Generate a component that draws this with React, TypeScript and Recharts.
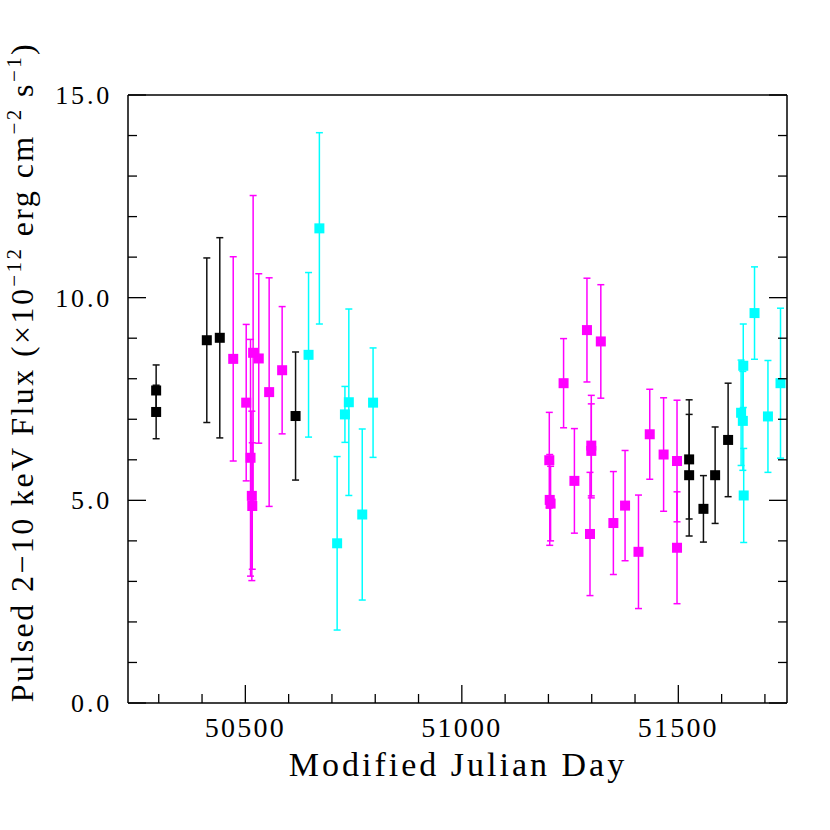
import { ScatterChart, Scatter, XAxis, YAxis, ErrorBar } from 'recharts'

// black points
const blackMjd = [50294, 50294, 50411, 50441, 50616, 51525, 51525, 51558, 51585, 51615]
const blackFlux = [7.71, 7.18, 8.95, 9.01, 7.08, 6.01, 5.62, 4.79, 5.62, 6.49]
const blackErr = [0.63, 0.66, 2.03, 2.47, 1.58, 1.47, 1.5, 0.82, 1.19, 1.4]

// magenta points
const magentaMjd = [
  50472, 50502, 50518, 50512, 50515, 50516, 50531, 50555, 50585,
  51202, 51203, 51205, 51235, 51260, 51289, 51299, 51299, 51296, 51321,
  51350, 51377, 51408, 51434, 51466, 51497, 51497,
]
const magentaFlux = [
  8.49, 7.41, 8.64, 6.05, 5.11, 4.86, 8.5, 7.67, 8.21,
  5.99, 5.01, 4.92, 7.89, 5.48, 9.2, 6.35, 6.22, 4.17, 8.92,
  4.44, 4.87, 3.73, 6.63, 6.13, 5.97, 3.83,
]
const magentaErr = [
  2.52, 1.93, 3.88, 2.92, 2.09, 1.56, 2.09, 2.82, 1.57,
  1.18, 1.12, 0.92, 1.1, 1.29, 1.28, 1.24, 1.16, 1.52, 1.4,
  1.27, 1.36, 1.4, 1.11, 1.4, 1.5, 1.38,
]

// cyan points
const cyanMjd = [50646, 50671, 50712, 50730, 50739, 50770, 50795, 51645, 51649, 51650, 51651, 51676, 51707, 51736]
const cyanFlux = [8.59, 11.71, 3.94, 7.12, 7.42, 4.65, 7.41, 7.16, 6.96, 8.32, 5.12, 9.62, 7.07, 7.89]
const cyanErr = [2.03, 2.36, 2.14, 0.69, 2.3, 2.11, 1.35, 1.3, 1.22, 1.03, 1.16, 1.14, 1.38, 1.85]

const xTicks = [50300, 50400, 50500, 50600, 50700, 50800, 50900, 51000, 51100, 51200, 51300, 51400, 51500, 51600, 51700]
const xMajor = [50500, 51000, 51500]
const yTicks = [0, 1, 2, 3, 4, 5, 6, 7, 8, 9, 10, 11, 12, 13, 14, 15]
const yMajor = [0, 5, 10, 15]

const FONT = '"Liberation Serif", serif'
const INK = '#000'

const toPoints = (mjd: number[], flux: number[], err: number[]) =>
  mjd.map((m, i) => ({ mjd: m, flux: flux[i], err: err[i] }))

const square = (color: string) => (props: any) => (
  <rect x={props.cx - 5} y={props.cy - 5} width={10} height={10} fill={color} />
)

function BottomTick({ x, y, payload }: any) {
  const major = xMajor.includes(payload.value)
  return (
    <g>
      <line x1={x} y1={y} x2={x} y2={y - (major ? 18 : 9)} stroke={INK} strokeWidth={1.3} />
      {major && (
        <text x={x} y={y + 34} textAnchor="middle" fontSize={28} letterSpacing={2.2} fontFamily={FONT} fill={INK}>
          {payload.value}
        </text>
      )}
    </g>
  )
}

function TopTick({ x, y, payload }: any) {
  const major = xMajor.includes(payload.value)
  return <line x1={x} y1={y} x2={x} y2={y + (major ? 18 : 9)} stroke={INK} strokeWidth={1.3} />
}

function LeftTick({ x, y, payload }: any) {
  const major = yMajor.includes(payload.value)
  return (
    <g>
      <line x1={x} y1={y} x2={x + (major ? 18 : 9)} y2={y} stroke={INK} strokeWidth={1.3} />
      {major && (
        <text x={x - 16} y={y} dy="0.34em" textAnchor="end" fontSize={26} letterSpacing={2.8} fontFamily={FONT} fill={INK}>
          {payload.value.toFixed(1)}
        </text>
      )}
    </g>
  )
}

function RightTick({ x, y, payload }: any) {
  const major = yMajor.includes(payload.value)
  return <line x1={x} y1={y} x2={x - (major ? 18 : 9)} y2={y} stroke={INK} strokeWidth={1.3} />
}

function XLabel() {
  return (
    <text x={458} y={776} textAnchor="middle" fontSize={34} letterSpacing={3} fontFamily={FONT} fill={INK}>
      Modified Julian Day
    </text>
  )
}

function YLabel() {
  const cx = 33
  const cy = 372
  return (
    <text
      x={cx}
      y={cy}
      transform={`rotate(-90 ${cx} ${cy})`}
      textAnchor="middle"
      fontSize={32}
      letterSpacing={2.4}
      fontFamily={FONT}
      fill={INK}
    >
      Pulsed 2−10 keV Flux (×10
      <tspan dy={-12} fontSize={21}>−12</tspan>
      <tspan dy={12}> erg cm</tspan>
      <tspan dy={-12} fontSize={21}>−2</tspan>
      <tspan dy={12}> s</tspan>
      <tspan dy={-12} fontSize={21}>−1</tspan>
      <tspan dy={12}>)</tspan>
    </text>
  )
}

export default function App() {
  const black = toPoints(blackMjd, blackFlux, blackErr)
  const magenta = toPoints(magentaMjd, magentaFlux, magentaErr)
  const cyan = toPoints(cyanMjd, cyanFlux, cyanErr)

  return (
    <div style={{ position: 'absolute', left: 0, top: 0, width: 830, height: 830, background: '#fff' }}>
      <ScatterChart width={830} height={830} margin={{ top: 94, right: 42, bottom: 67, left: 58 }}>
        <XAxis
          dataKey="mjd"
          type="number"
          domain={[50229, 51751]}
          allowDataOverflow
          ticks={xTicks}
          interval={0}
          tickSize={0}
          tickMargin={0}
          tickLine={false}
          height={60}
          axisLine={{ stroke: INK, strokeWidth: 1.5 }}
          tick={<BottomTick />}
          label={<XLabel />}
        />
        <XAxis
          xAxisId="top"
          orientation="top"
          type="number"
          domain={[50229, 51751]}
          allowDataOverflow
          ticks={xTicks}
          interval={0}
          tickSize={0}
          tickMargin={0}
          tickLine={false}
          height={1}
          axisLine={{ stroke: INK, strokeWidth: 1.5 }}
          tick={<TopTick />}
        />
        <YAxis
          dataKey="flux"
          type="number"
          domain={[0, 15]}
          allowDataOverflow
          ticks={yTicks}
          interval={0}
          tickSize={0}
          tickMargin={0}
          tickLine={false}
          width={70}
          axisLine={{ stroke: INK, strokeWidth: 1.5 }}
          tick={<LeftTick />}
          label={<YLabel />}
        />
        <YAxis
          yAxisId="right"
          orientation="right"
          type="number"
          domain={[0, 15]}
          allowDataOverflow
          ticks={yTicks}
          interval={0}
          tickSize={0}
          tickMargin={0}
          tickLine={false}
          width={1}
          axisLine={{ stroke: INK, strokeWidth: 1.5 }}
          tick={<RightTick />}
        />
        <Scatter data={magenta} fill="#ff00ff" shape={square('#ff00ff')} isAnimationActive={false}>
          <ErrorBar dataKey="err" direction="y" width={3.5} stroke="#ff00ff" strokeWidth={1.5} />
        </Scatter>
        <Scatter data={black} fill="#000" shape={square('#000')} isAnimationActive={false}>
          <ErrorBar dataKey="err" direction="y" width={3.5} stroke="#111" strokeWidth={1.5} />
        </Scatter>
        <Scatter data={cyan} fill="#00ffff" shape={square('#00ffff')} isAnimationActive={false}>
          <ErrorBar dataKey="err" direction="y" width={3.5} stroke="#00ffff" strokeWidth={1.5} />
        </Scatter>
      </ScatterChart>
    </div>
  )
}
